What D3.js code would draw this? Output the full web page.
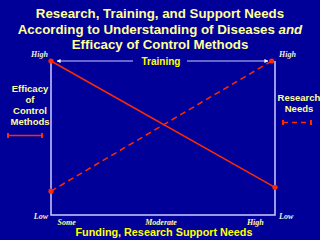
<!DOCTYPE html>
<html>
<head>
<meta charset="utf-8">
<script src="https://cdn.jsdelivr.net/npm/d3@7"></script>
<style>
  html, body { margin: 0; padding: 0; background: #000099; }
  svg { display: block; }
</style>
</head>
<body>
<svg id="chart"></svg>
<script>
const W = 320, H = 240;
const margin = { top: 61, right: 45, bottom: 25, left: 51 };

// data
const titleLines = ["Research, Training, and Support Needs", "According to Understanding of Diseases ", "Efficacy of Control Methods"];
const xCategories = ["Some", "Moderate", "High"];
const yLevels = ["Low", "High"];
const efficacy = [{ x: 0, y: 1 }, { x: 1, y: 0.18 }];
const research = [{ x: 0, y: 0.155 }, { x: 0.985, y: 1 }];
const leftLabel = ["Efficacy", "of", "Control", "Methods"];
const rightLabel = ["Research", "Needs"];

const svg = d3.select("#chart").attr("width", W).attr("height", H);

svg.append("rect").attr("width", W).attr("height", H).attr("fill", "#000099");

const x = d3.scaleLinear().domain([0, 1]).range([margin.left, W - margin.right]);
const y = d3.scaleLinear().domain([0, 1]).range([H - margin.bottom, margin.top]);
const xCat = d3.scalePoint().domain(xCategories).range([margin.left + 1, W - margin.right - 6]).padding(0.15);

const red = "#ff2a00";
const axisColor = "#ccccff";

// title
const title = svg.append("g").attr("font-family", "Liberation Sans, Arial, sans-serif")
  .attr("font-weight", "bold").attr("font-size", 13.3).attr("fill", "#ffff99")
  .attr("text-anchor", "middle");
title.append("text").attr("x", 160).attr("y", 17.5).text(titleLines[0]);
const t2 = title.append("text").attr("x", 160).attr("y", 34);
t2.append("tspan").text(titleLines[1]);
t2.append("tspan").attr("font-style", "italic").text("and");
title.append("text").attr("x", 160).attr("y", 49).text(titleLines[2]);

// frame: left, bottom, right
const frame = svg.append("g").attr("stroke", axisColor).attr("stroke-width", 1.5).attr("fill", "none");
frame.append("path").attr("d", d3.line()([
  [x(0), y(1)], [x(0), y(0)], [x(1), y(0)], [x(1), y(1)]
]));

// x tick labels
const xAxis = svg.append("g")
  .attr("transform", `translate(0,${y(0) + 10})`)
  .call(d3.axisBottom(xCat).tickSize(0).tickPadding(0));
xAxis.select(".domain").remove();
xAxis.selectAll("text")
  .attr("font-family", "Liberation Serif, Times New Roman, serif")
  .attr("font-style", "italic").attr("font-weight", "bold")
  .attr("font-size", 8).attr("fill", "#ffff99").attr("dy", 0);

// y end labels on both sides
const endLabels = svg.append("g")
  .attr("font-family", "Liberation Serif, Times New Roman, serif")
  .attr("font-style", "italic").attr("font-weight", "bold")
  .attr("font-size", 8).attr("fill", "#eeeedd");
yLevels.forEach((lvl, i) => {
  const yy = i === 0 ? y(0) + 4 : y(1) - 4;
  endLabels.append("text").attr("x", x(0) - 3).attr("y", yy).attr("text-anchor", "end").text(lvl);
  endLabels.append("text").attr("x", x(1) + 4).attr("y", yy).attr("text-anchor", "start").text(lvl);
});

// bottom axis title
svg.append("text").attr("x", 164).attr("y", 235.5).attr("text-anchor", "middle")
  .attr("font-family", "Liberation Sans, Arial, sans-serif").attr("font-weight", "bold")
  .attr("font-size", 10.8).attr("fill", "#ffff00")
  .text("Funding, Research Support Needs");

// training arrow
const defs = svg.append("defs");
defs.append("marker").attr("id", "arr").attr("viewBox", "0 0 10 10")
  .attr("refX", 9).attr("refY", 5).attr("markerWidth", 4).attr("markerHeight", 4)
  .attr("markerUnits", "userSpaceOnUse").attr("orient", "auto")
  .append("path").attr("d", "M0,0L10,5L0,10Z").attr("fill", "#ffffff");
const ty = y(1);
svg.append("line").attr("x1", 133).attr("x2", x(0) + 6).attr("y1", ty).attr("y2", ty)
  .attr("stroke", axisColor).attr("stroke-width", 1.2).attr("marker-end", "url(#arr)");
svg.append("line").attr("x1", 187).attr("x2", x(1) - 7).attr("y1", ty).attr("y2", ty)
  .attr("stroke", axisColor).attr("stroke-width", 1.2).attr("marker-end", "url(#arr)");
svg.append("text").attr("x", 161).attr("y", 64.5).attr("text-anchor", "middle")
  .attr("font-family", "Liberation Sans, Arial, sans-serif").attr("font-weight", "bold")
  .attr("font-size", 10).attr("fill", "#ffff00").text("Training");

// lines
const line = d3.line().x(d => x(d.x)).y(d => y(d.y));
svg.append("path").datum(efficacy).attr("d", line)
  .attr("fill", "none").attr("stroke", red).attr("stroke-width", 1.5);
svg.append("path").datum(research).attr("d", line)
  .attr("fill", "none").attr("stroke", red).attr("stroke-width", 1.5)
  .attr("stroke-dasharray", "6,4");
svg.selectAll(".dot").data(efficacy.concat(research)).enter().append("circle")
  .attr("class", "dot").attr("cx", d => x(d.x)).attr("cy", d => y(d.y))
  .attr("r", 2.6).attr("fill", red);

// side labels
const sideText = svg.append("g").attr("font-family", "Liberation Sans, Arial, sans-serif")
  .attr("font-weight", "bold").attr("font-size", 9.5).attr("fill", "#ffff99")
  .attr("text-anchor", "middle");
leftLabel.forEach((s, i) => {
  sideText.append("text").attr("x", 30).attr("y", 92 + i * 11).text(s);
});
rightLabel.forEach((s, i) => {
  sideText.append("text").attr("x", 299).attr("y", 100.5 + i * 11).text(s);
});

// legend keys
svg.append("line").attr("x1", 8).attr("x2", 42).attr("y1", 135.5).attr("y2", 135.5)
  .attr("stroke", red).attr("stroke-width", 1.5);
svg.append("line").attr("x1", 283).attr("x2", 311).attr("y1", 122.5).attr("y2", 122.5)
  .attr("stroke", red).attr("stroke-width", 1.5).attr("stroke-dasharray", "5,4");
[[8, 135.5], [42, 135.5], [283, 122.5], [311, 122.5]].forEach(p => {
  svg.append("rect").attr("x", p[0] - 1).attr("y", p[1] - 2.5).attr("width", 2).attr("height", 5)
    .attr("fill", red);
});
</script>
</body>
</html>
